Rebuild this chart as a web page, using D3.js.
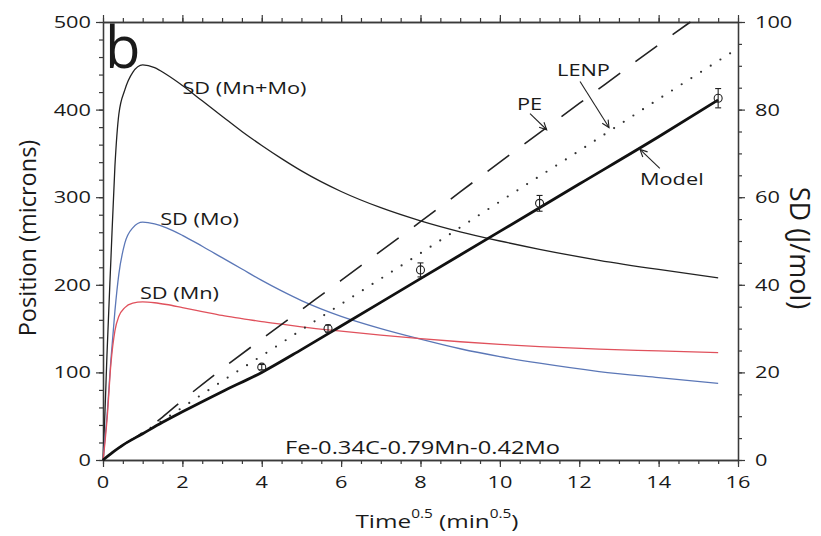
<!DOCTYPE html>
<html><head><meta charset="utf-8">
<script src="https://cdn.jsdelivr.net/npm/d3@7"></script>
<style>html,body{margin:0;padding:0;background:#fff;}svg{display:block;}</style>
</head><body>
<script>
// ---- data ----
const sdTime   = [0,0.05,0.1,0.2,0.3,0.4,0.55,0.75,1.0,1.3,1.6,2.0,2.5,3.0,3.5,4.0,4.5,5.0,6.0,7.0,8.0,9.0,10.0,11.0,12.5,14.0,15.5];
const sdMnMo   = [0,11,24,46,67,79,84.5,88.5,90.2,89.6,88.0,85.5,82.0,78.5,75.0,71.8,68.8,66.0,61.3,57.6,54.6,52.1,50.0,48.1,45.6,43.5,41.6];
const sdMo     = [0,5,10,23,34,42.5,49.5,53,54.3,53.9,53.0,51.3,48.8,46.2,43.6,41.0,38.6,36.4,32.8,30.0,27.6,25.4,23.6,22.1,20.2,18.8,17.5];
const sdMn     = [0,4,9,22,29.5,32.8,34.8,35.8,36.1,35.9,35.5,34.8,33.9,33.0,32.3,31.6,31.0,30.4,29.4,28.5,27.7,27.0,26.4,25.9,25.3,24.9,24.5];

const modelTime = [0,0.25,0.5,1,1.5,2,3,4,5,6,8,10,12,14,15.5];
const modelPos  = [0,9,17,30,43,55,78,100,126,153,207,261,315,369,411];
const peTime    = [0,0.5,1,1.5,2,3,4,6,8,10,12,14,14.8];
const pePos     = [0,17,31,49,68,104,138,205,272,340,407,474,500];
const lenpTime  = [0,0.5,1,1.5,2,3,4,6,8,10,12,14,16];
const lenpPos   = [0,17,31,45,60,90,119,178,236,295,353,412,470];

const expTime = [4,5.67,8,11,15.5];
const expPos  = [106,150,217,293,413];
const expErr  = [3,4,8,9,11];

const xTicks = [0,2,4,6,8,10,12,14,16];
const yLeftTicks = [0,100,200,300,400,500];
const yRightTicks = [0,20,40,60,80,100];

// ---- layout ----
const W = 821, H = 536;
const FONT = "'Open Sans','Noto Sans',sans-serif";
const SX = 1.28;
const x  = d3.scaleLinear().domain([0,16]).range([103,738]);
const yL = d3.scaleLinear().domain([0,500]).range([460,22]);
const yR = d3.scaleLinear().domain([0,100]).range([460,22]);

const svg = d3.select("body").append("svg").attr("width",W).attr("height",H)
  .style("font-family",FONT);

const AX = "#3a3a3a";
function text(x0,y0,str,{size=17,anchor="start",rot=0,sx=SX,fill="#1a1a1a"}={}){
  return svg.append("text")
    .attr("transform",`translate(${x0},${y0}) scale(${sx},1) rotate(${rot})`)
    .attr("text-anchor",anchor).attr("font-size",size).attr("fill",fill).text(str);
}

// axes
function styleAxis(g){
  g.selectAll("path.domain").attr("stroke",AX).attr("stroke-width",1.3);
  g.selectAll(".tick line").attr("stroke",AX).attr("stroke-width",1.2);
  g.selectAll("text").remove();
}
const minorX = d3.range(0,16.001,0.5);
const minorYL = d3.range(0,500.1,20);
const minorYR = d3.range(0,100.1,5);
svg.append("g").attr("transform",`translate(0,${yL(0)})`).call(d3.axisBottom(x).tickValues(minorX).tickSize(4).tickSizeOuter(0)).call(styleAxis);
svg.append("g").attr("transform",`translate(0,${yL(0)})`).call(d3.axisBottom(x).tickValues(xTicks).tickSize(7).tickSizeOuter(0)).call(styleAxis);
svg.append("g").attr("transform",`translate(0,${yL(500)})`).call(d3.axisTop(x).tickValues(minorX).tickSize(4).tickSizeOuter(0)).call(styleAxis);
svg.append("g").attr("transform",`translate(0,${yL(500)})`).call(d3.axisTop(x).tickValues(xTicks).tickSize(7).tickSizeOuter(0)).call(styleAxis);
svg.append("g").attr("transform",`translate(${x(0)},0)`).call(d3.axisLeft(yL).tickValues(minorYL).tickSize(4).tickSizeOuter(0)).call(styleAxis);
svg.append("g").attr("transform",`translate(${x(0)},0)`).call(d3.axisLeft(yL).tickValues(yLeftTicks).tickSize(7).tickSizeOuter(0)).call(styleAxis);
svg.append("g").attr("transform",`translate(${x(16)},0)`).call(d3.axisRight(yR).tickValues(minorYR).tickSize(4).tickSizeOuter(0)).call(styleAxis);
svg.append("g").attr("transform",`translate(${x(16)},0)`).call(d3.axisRight(yR).tickValues(yRightTicks).tickSize(7).tickSizeOuter(0)).call(styleAxis);

// tick labels
xTicks.forEach(v=>text(x(v),488,String(v),{anchor:"middle"}));
yLeftTicks.forEach(v=>text(x(0)-12,yL(v)+6,String(v),{anchor:"end"}));
yRightTicks.forEach(v=>text(x(16)+17,yR(v)+6,String(v),{anchor:"start"}));

// axis titles
text(36,238,"Position (microns)",{size:23.5,anchor:"middle",rot:-90,sx:1});
text(790,248,"SD (J/mol)",{size:27,anchor:"middle",rot:90,sx:1});
const xt = text(437,528,"",{size:19,anchor:"middle"});
xt.append("tspan").text("Time");
xt.append("tspan").attr("dy",-10).attr("font-size",12).text("0.5");
xt.append("tspan").attr("dy",10).text(" (min");
xt.append("tspan").attr("dy",-10).attr("font-size",12).text("0.5");
xt.append("tspan").attr("dy",10).text(")");

// curves
const lineR = (ts,vs)=>d3.line().curve(d3.curveMonotoneX)(ts.map((t,i)=>[x(t),yR(vs[i])]));
const lineL = (ts,vs)=>d3.line().curve(d3.curveMonotoneX)(ts.map((t,i)=>[x(t),yL(vs[i])]));

svg.append("path").attr("d",lineR(sdTime,sdMnMo)).attr("fill","none").attr("stroke","#222").attr("stroke-width",1.3);
svg.append("path").attr("d",lineR(sdTime,sdMo)).attr("fill","none").attr("stroke","#5b77b7").attr("stroke-width",1.3);
svg.append("path").attr("d",lineR(sdTime,sdMn)).attr("fill","none").attr("stroke","#e0515c").attr("stroke-width",1.3);

svg.append("path").attr("d",lineL(peTime,pePos)).attr("fill","none").attr("stroke","#222").attr("stroke-width",1.6)
  .attr("stroke-dasharray","27 19").attr("stroke-dashoffset",25);
svg.append("path").attr("d",lineL(lenpTime,lenpPos)).attr("fill","none").attr("stroke","#333").attr("stroke-width",2.2)
  .attr("stroke-linecap","round").attr("stroke-dasharray","0 11.5");
svg.append("path").attr("d",lineL(modelTime,modelPos)).attr("fill","none").attr("stroke","#111").attr("stroke-width",2.8);

// experimental points
expTime.forEach((t,i)=>{
  const cx=x(t), cy=yL(expPos[i]), t1=yL(expPos[i]+expErr[i]), b1=yL(expPos[i]-expErr[i]);
  svg.append("line").attr("x1",cx).attr("x2",cx).attr("y1",t1).attr("y2",b1).attr("stroke","#222").attr("stroke-width",1.1);
  [t1,b1].forEach(yy=>svg.append("line").attr("x1",cx-3).attr("x2",cx+3).attr("y1",yy).attr("y2",yy).attr("stroke","#222").attr("stroke-width",1.1));
  svg.append("circle").attr("cx",cx).attr("cy",cy).attr("r",4).attr("fill","none").attr("stroke","#222").attr("stroke-width",1.1);
});

// annotations
const arrows = [
  {from:[10.76,395.5],to:[11.18,377]},
  {from:[12.02,432],to:[12.75,379.5]},
  {from:[14.03,333],to:[13.53,354.5]}
];
arrows.forEach(a=>{
  const x1=x(a.from[0]),y1=yL(a.from[1]),x2=x(a.to[0]),y2=yL(a.to[1]);
  svg.append("line").attr("x1",x1).attr("y1",y1).attr("x2",x2).attr("y2",y2).attr("stroke","#222").attr("stroke-width",1.1);
  const ang=Math.atan2(y2-y1,x2-x1), L=8, sp=0.45;
  svg.append("path").attr("d",`M${x2-L*Math.cos(ang-sp)},${y2-L*Math.sin(ang-sp)}L${x2},${y2}L${x2-L*Math.cos(ang+sp)},${y2-L*Math.sin(ang+sp)}`)
    .attr("fill","none").attr("stroke","#222").attr("stroke-width",1.1);
});
text(x(10.43),yL(399),"PE");
text(x(11.44),yL(438.6),"LENP");
text(x(13.53),yL(313.6),"Model");
text(x(2.0),yR(83.6),"SD (Mn+Mo)");
text(x(1.44),yR(53.6),"SD (Mo)");
text(x(0.93),yR(36.8),"SD (Mn)");
text(285,454,"Fe-0.34C-0.79Mn-0.42Mo",{size:18.5});
text(105,68,"b",{size:58,sx:1});
</script>
</body></html>
